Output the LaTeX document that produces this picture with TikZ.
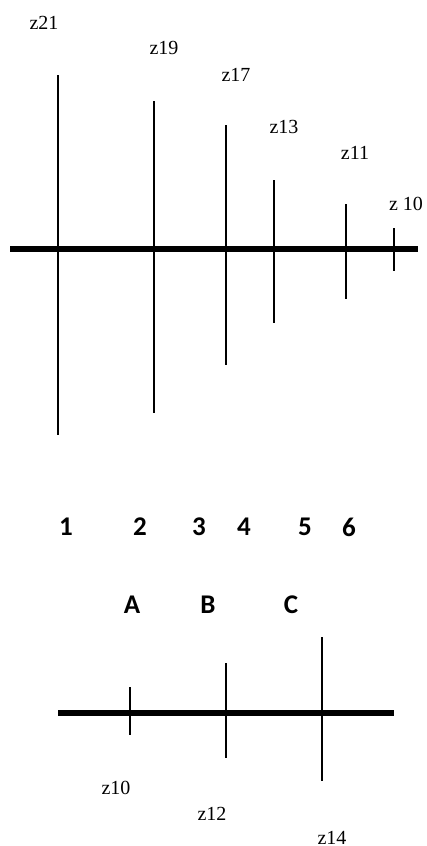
\documentclass[tikz,border=0pt]{standalone}
\usepackage{fontspec}
\setmainfont{Liberation Serif}
\newfontfamily\bandfont{Carlito}
\usepackage{tikz}

\begin{document}
\begin{tikzpicture}[x=0.5pt,y=-0.5pt,line join=round,
    axis/.style={line width=3pt},
    tick/.style={line width=1pt},
    zlabel/.style={font=\fontsize{10}{12}\selectfont,inner sep=0pt},
    band/.style={font=\bandfont\bfseries\fontsize{13.5}{16}\selectfont,inner sep=0pt}]
  \useasboundingbox (0,0) rectangle (427,846);
  % upper axis
  \coordinate (UL) at (10,249);
  \coordinate (UR) at (418,249);
  \coordinate (T1) at (58,75);
  \coordinate (B1) at (58,435);
  \coordinate (T2) at (154,101);
  \coordinate (B2) at (154,413);
  \coordinate (T3) at (226,125);
  \coordinate (B3) at (226,365);
  \coordinate (T4) at (274,180);
  \coordinate (B4) at (274,323);
  \coordinate (T5) at (346,204);
  \coordinate (B5) at (346,299);
  \coordinate (T6) at (394,228);
  \coordinate (B6) at (394,271);
  \draw[tick] (T1) -- (B1);
  \draw[tick] (T2) -- (B2);
  \draw[tick] (T3) -- (B3);
  \draw[tick] (T4) -- (B4);
  \draw[tick] (T5) -- (B5);
  \draw[tick] (T6) -- (B6);
  \draw[axis] (UL) -- (UR);
  \node[zlabel] (z21) at (44,23) {z21};
  \node[zlabel] (z19) at (164,48) {z19};
  \node[zlabel] (z17) at (236,75) {z17};
  \node[zlabel] (z13) at (284,127) {z13};
  \node[zlabel] (z11) at (355,153) {z11};
  \node[zlabel] (z10u) at (406,204) {z 10};
  % numbers and letters
  \node[band] (n1) at (66,527) {1};
  \node[band] (n2) at (140,527) {2};
  \node[band] (n3) at (199,527) {3};
  \node[band] (n4) at (244,527) {4};
  \node[band] (n5) at (305,527) {5};
  \node[band] (n6) at (349,527) {6};
  \node[band] (lA) at (132,605) {A};
  \node[band] (lB) at (208,605) {B};
  \node[band] (lC) at (291,605) {C};
  % lower axis
  \coordinate (LL) at (58,713);
  \coordinate (LR) at (394,713);
  \coordinate (TA) at (130,687);
  \coordinate (BA) at (130,735);
  \coordinate (TB) at (226,663);
  \coordinate (BB) at (226,758);
  \coordinate (TC) at (322,637);
  \coordinate (BC) at (322,781);
  \draw[tick] (TA) -- (BA);
  \draw[tick] (TB) -- (BB);
  \draw[tick] (TC) -- (BC);
  \draw[axis] (LL) -- (LR);
  \node[zlabel] (z10) at (116,788) {z10};
  \node[zlabel] (z12) at (212,814) {z12};
  \node[zlabel] (z14) at (332,838) {z14};
\end{tikzpicture}
\end{document}
